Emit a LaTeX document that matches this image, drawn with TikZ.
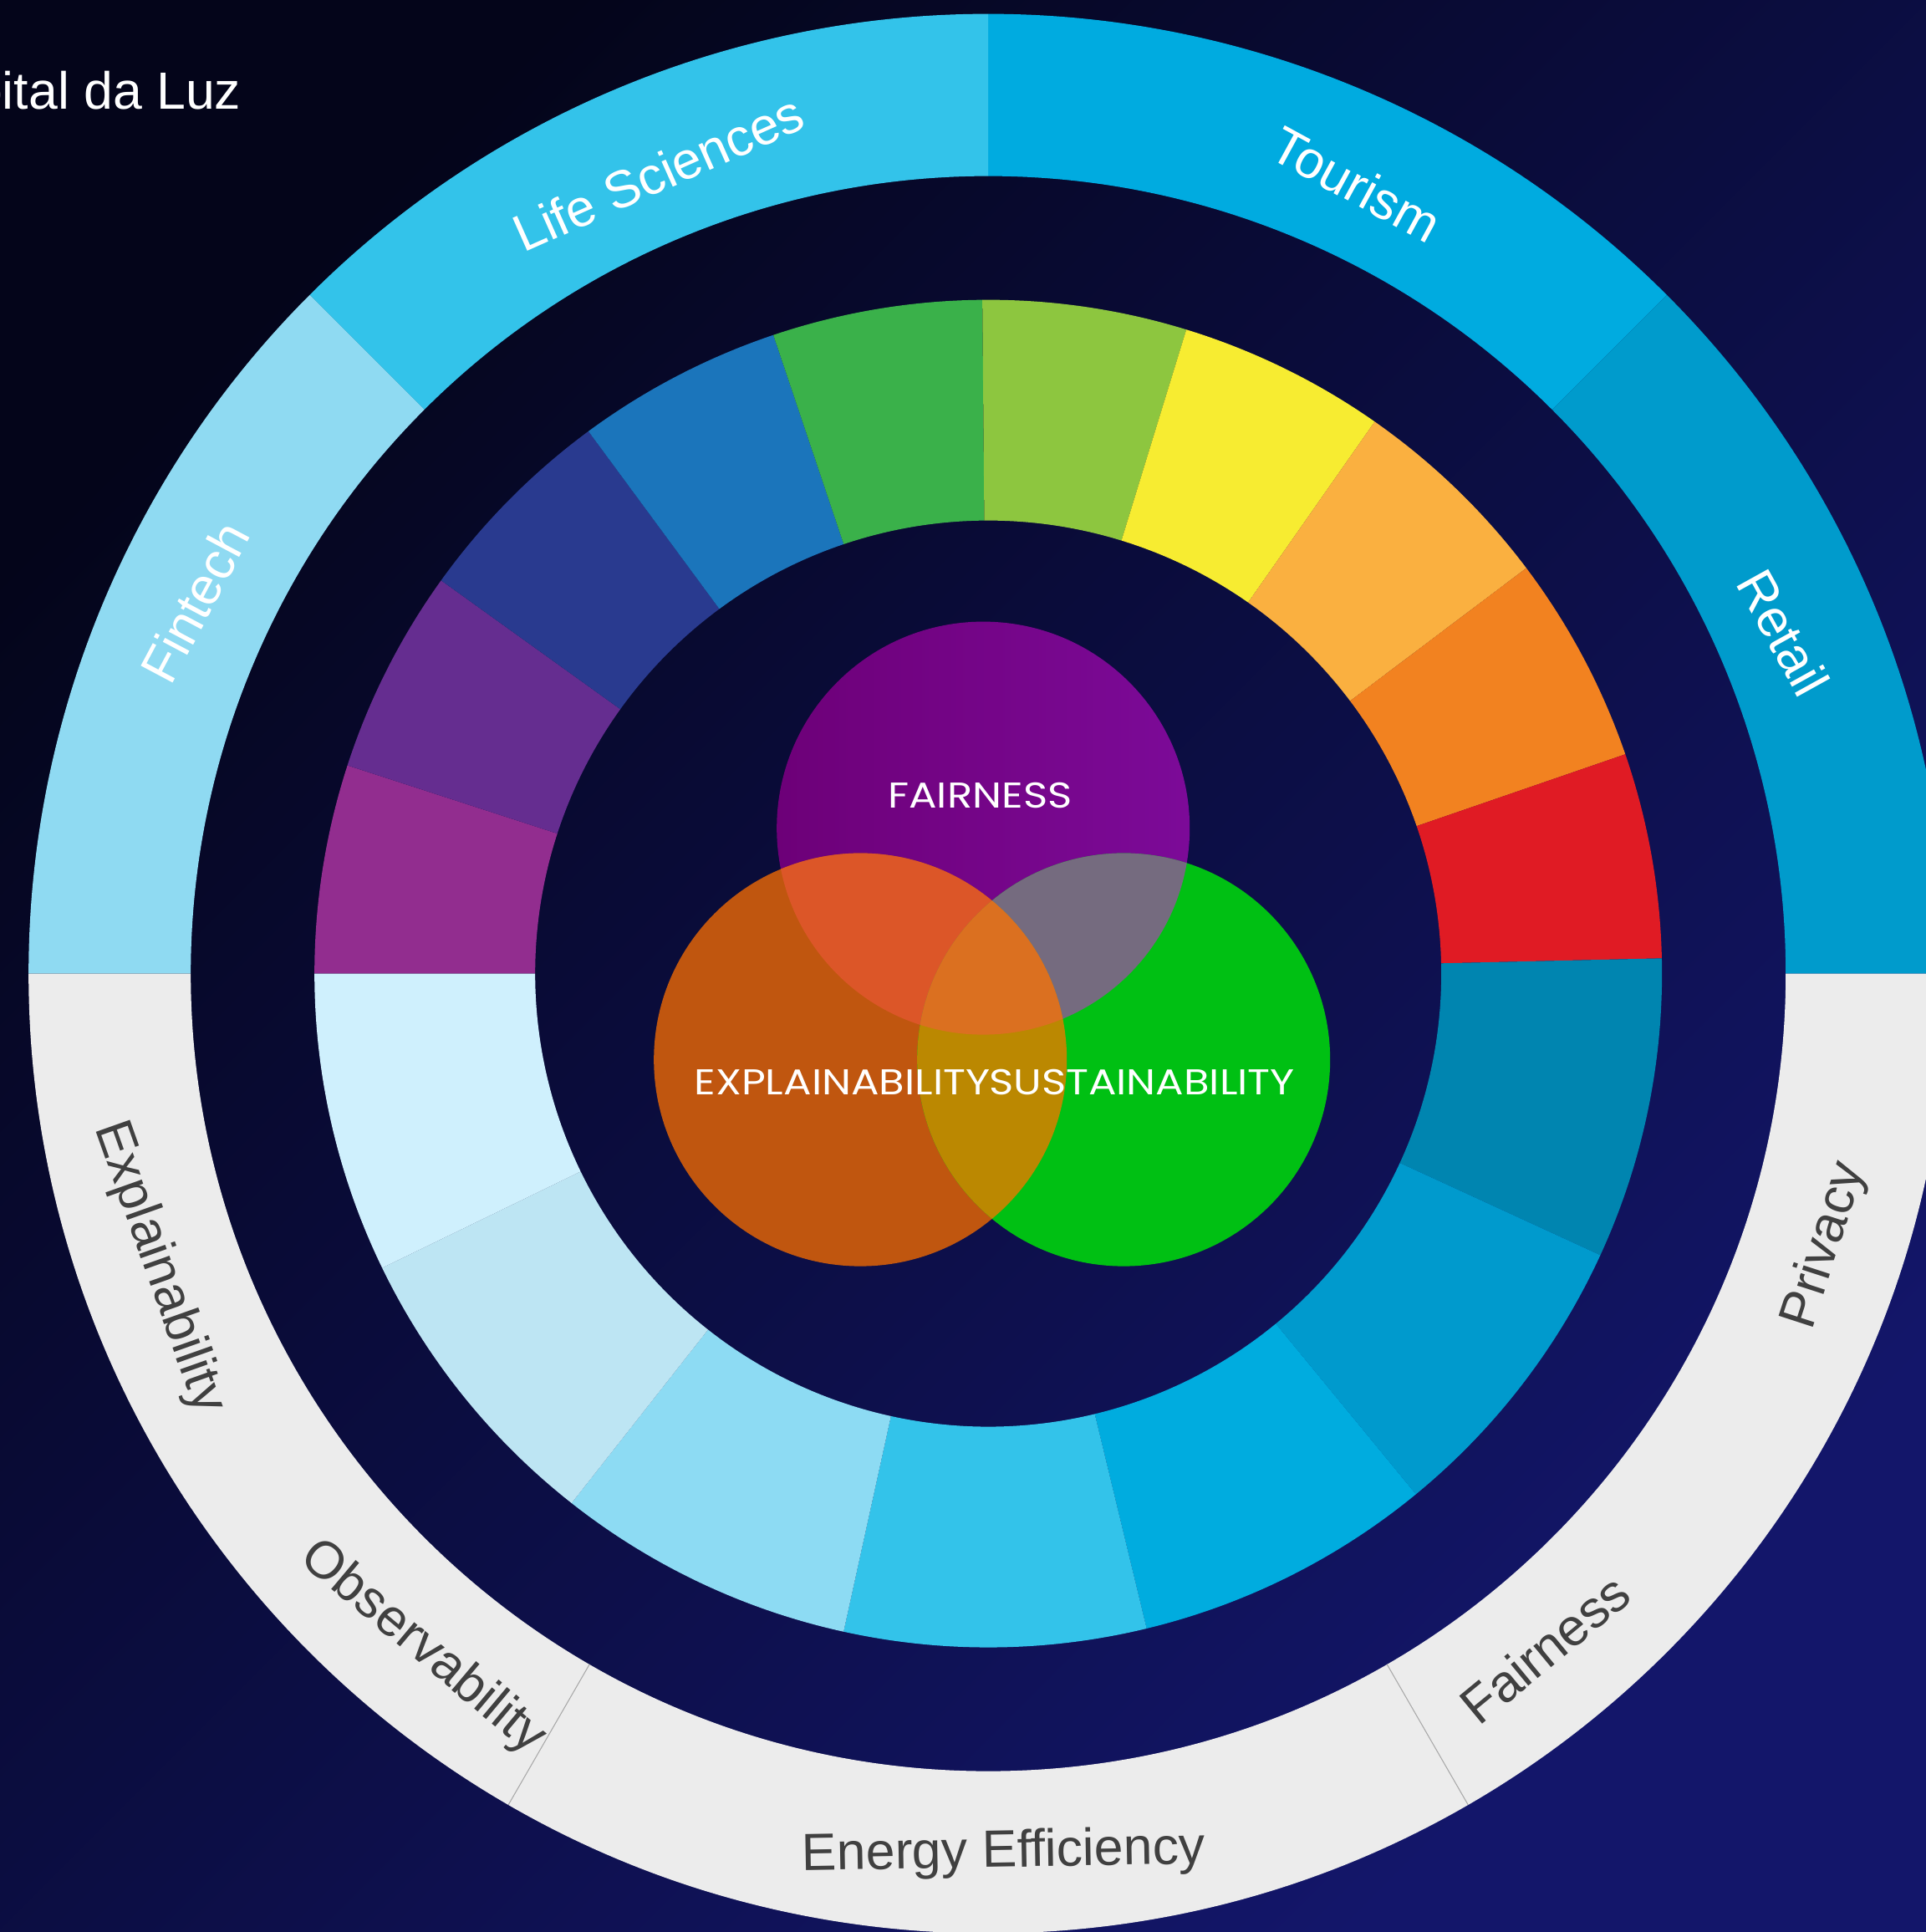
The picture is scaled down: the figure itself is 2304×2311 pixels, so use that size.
\documentclass[tikz,border=0pt]{standalone}
\usepackage{fontspec}
\newfontfamily\labfont{Liberation Sans}
\newfontfamily\vennfont{Poppins}[FakeStretch=1.16]
\definecolor{bgA}{HTML}{04051A}
\definecolor{bgB}{HTML}{13166A}
\definecolor{labgrey}{HTML}{404040}
\definecolor{ringgrey}{HTML}{ECECEC}
\definecolor{sepgrey}{HTML}{A8A8A8}
\definecolor{tourism}{HTML}{00ABE0}
\definecolor{retail}{HTML}{009BCC}
\definecolor{lifesci}{HTML}{33C3EA}
\definecolor{fintech}{HTML}{8FDAF2}
\definecolor{m1}{HTML}{922D8F}
\definecolor{m2}{HTML}{652D90}
\definecolor{m3}{HTML}{293A8F}
\definecolor{m4}{HTML}{1B75BB}
\definecolor{m5}{HTML}{3AB14A}
\definecolor{m6}{HTML}{8DC63F}
\definecolor{m7}{HTML}{F7EC31}
\definecolor{m8}{HTML}{FAB040}
\definecolor{m9}{HTML}{F28220}
\definecolor{m10}{HTML}{E01B24}
\definecolor{m11}{HTML}{0085B0}
\definecolor{m12}{HTML}{009ACD}
\definecolor{m13}{HTML}{00ACDF}
\definecolor{m14}{HTML}{33C3EA}
\definecolor{m15}{HTML}{8DDBF3}
\definecolor{m16}{HTML}{BDE5F3}
\definecolor{m17}{HTML}{CFF0FD}
\definecolor{fairL}{HTML}{6D0078}
\definecolor{fairR}{HTML}{7C0A98}
\definecolor{explc}{HTML}{C0560F}
\definecolor{sustc}{HTML}{00C013}
\definecolor{feC}{HTML}{DC5628}
\definecolor{fsC}{HTML}{756B7F}
\definecolor{esC}{HTML}{BB8801}
\definecolor{fesC}{HTML}{DB7020}
\newcommand\annsec[5]{\fill[#1] (#2:#4) arc[start angle=#2, end angle=#3, radius=#4] -- (#3:#5) arc[start angle=#3, end angle=#2, radius=#5] -- cycle;}
\begin{document}
\begin{tikzpicture}[x=0.01cm,y=0.01cm,
  toplab/.style={font=\labfont\fontsize{17.8}{20}\selectfont, text=white, anchor=center, inner sep=0pt},
  botlab/.style={font=\labfont\fontsize{17.8}{20}\selectfont, text=labgrey, anchor=base, inner sep=0pt},
  vennlab/.style={font=\vennfont\fontsize{12.2}{14}\selectfont, text=white, anchor=base, inner sep=0pt},
  sepline/.style={draw=sepgrey, line width=0.3pt}]
\useasboundingbox (-1182.2,-1146.4) rectangle (1121.8,1164.6);
\clip (-1182.2,-1146.4) rectangle (1121.8,1164.6);
% background
\shade[top color=bgB, bottom color=bgA, shading angle=225] (-1182.2,-1146.4) rectangle (1121.8,1164.6);
% outer ring
\annsec{tourism}{90}{45}{954}{1148}
\annsec{retail}{45}{0}{954}{1148}
\annsec{lifesci}{135}{90}{954}{1148}
\annsec{fintech}{180}{135}{954}{1148}
\annsec{ringgrey}{180}{360}{954}{1148}
\draw[sepline] (240:954) -- (240:1148);
\draw[sepline] (300:954) -- (300:1148);
% middle ring
\foreach \a/\b/\c in {180/162/m1, 162/144.3/m2, 144.3/126.4/m3, 126.4/108.6/m4, 108.6/90.5/m5, 90.5/72.9/m6, 72.9/55/m7, 55/37/m8, 37/19/m9, 19/1.3/m10, 1.3/-24.7/m11, -24.7/-50.6/m12, -50.6/-76.4/m13, -76.4/-102.4/m14, -102.4/-128.2/m15, -128.2/-154.1/m16, -154.1/-180/m17}{
  \annsec{\c}{\a}{\b}{542}{806}
}
% venn
\coordinate (F) at (-6,174);
\coordinate (E) at (-153,-103);
\coordinate (S) at (162,-103);
\shade[left color=fairL, right color=fairR] (F) circle[radius=247];
\fill[explc] (E) circle[radius=247];
\fill[sustc] (S) circle[radius=247];
\begin{scope}
  \clip (F) circle[radius=247];
  \fill[feC] (E) circle[radius=247];
  \fill[fsC] (S) circle[radius=247];
\end{scope}
\begin{scope}
  \clip (E) circle[radius=247];
  \fill[esC] (S) circle[radius=247];
  \clip (F) circle[radius=247];
  \fill[fesC] (S) circle[radius=247];
\end{scope}
\node[vennlab] (vF) at (-9.8,198.4) {FAIRNESS};
\node[vennlab] (vE) at (-174.7,-144.6) {EXPLAINABILITY};
\node[vennlab] (vS) at (183.9,-144.6) {SUSTAINABILITY};
% outer labels
\node[toplab, rotate=24] (lLife) at (112.4:1036) {Life Sciences};
\node[toplab, rotate=-28.6] (lTour) at (65:1042) {Tourism};
\node[toplab, rotate=-61] (lRet) at (23.2:1035) {Retail};
\node[toplab, rotate=62] (lFin) at (154.9:1048) {Fintech};
\node[botlab, rotate=289.5] (lExp) at (199.5:1069) {Explainability};
\node[botlab, rotate=320] (lObs) at (230:1069) {Observability};
\node[botlab, rotate=1] (lEn) at (271:1069) {Energy Efficiency};
\node[botlab, rotate=39.5] (lFai) at (309.5:1069) {Fairness};
\node[botlab, rotate=72] (lPri) at (342:1069) {Privacy};
% title
\node[toplab, anchor=base east] (title) at (-893.2,1033.6) {Hospital da Luz};
\end{tikzpicture}
\end{document}
